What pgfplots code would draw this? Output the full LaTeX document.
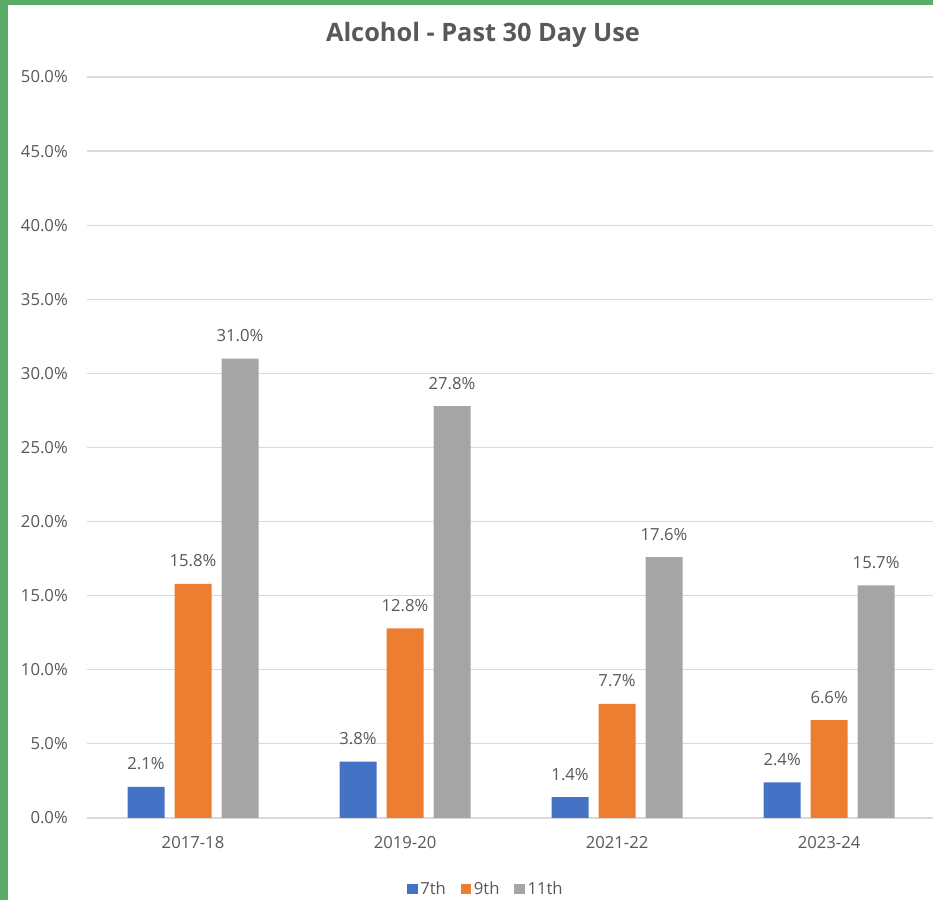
\documentclass[border=0pt]{standalone}
\usepackage{fontspec}
\setmainfont{Open Sans}
\usepackage{pgfplots}
\pgfplotsset{compat=1.18}
\definecolor{c7}{HTML}{4472C4}
\definecolor{c9}{HTML}{ED7D31}
\definecolor{c11}{HTML}{A5A5A5}
\definecolor{txt}{HTML}{595959}
\definecolor{gridc}{HTML}{D9D9D9}
\definecolor{framec}{RGB}{91,172,103}
\begin{document}
\begin{tikzpicture}
\path[use as bounding box] (0,0) rectangle (699.75pt,675pt);
\fill[white] (0,0) rectangle (699.75pt,675pt);
\begin{axis}[
  at={(65.25pt,61.5pt)}, anchor=south west,
  scale only axis, width=634.5pt, height=555.75pt,
  ybar=7.5pt, bar width=27.75pt,
  xmin=-0.5, xmax=3.49, ymin=0, ymax=50,
  xtick={0,1,2,3}, xticklabels={2017-18,2019-20,2021-22,2023-24},
  ytick={0,5,...,50},
  yticklabel={\pgfmathprintnumber[fixed,fixed zerofill,precision=1]{\tick}\%},
  /pgf/number format/assume math mode=true,
  xmajorgrids=false, ymajorgrids=true,
  major grid style={draw=gridc, line width=0.9pt},
  axis line style={draw=none},
  axis x line*=bottom, axis y line*=left,
  major tick length=0pt,
  tick label style={font=\fontsize{12.5}{14}\selectfont, text=txt},
  yticklabel style={anchor=east, inner sep=0pt, xshift=-14.25pt},
  xticklabel style={anchor=north, inner sep=0pt, yshift=-13.5pt},
  nodes near coords={\pgfmathprintnumber[fixed,fixed zerofill,precision=1]{\pgfplotspointmeta}\%},
  nodes near coords style={font=\fontsize{12.5}{14}\selectfont, text=txt, anchor=base, inner sep=0pt, yshift=12.75pt},
  legend style={at={(0.4718,-0.0958)}, anchor=center, draw=none, fill=none,
    legend columns=3, font=\fontsize{12.5}{14}\selectfont, text=txt,
    /tikz/every even column/.append style={column sep=9pt}},
  legend image code/.code={\fill[#1] (0pt,-3.75pt) rectangle (8pt,3.75pt);},
  clip=false,
]
\draw[draw=gridc, line width=0.9pt] (axis cs:-0.5,0) -- (axis cs:3.49,0);
\addplot[fill=c7, draw=none] coordinates {(0,2.1) (1,3.8) (2,1.4) (3,2.4)};
\addplot[fill=c9, draw=none] coordinates {(0,15.8) (1,12.8) (2,7.7) (3,6.6)};
\addplot[fill=c11, draw=none] coordinates {(0,31.0) (1,27.8) (2,17.6) (3,15.7)};
\legend{7th,9th,11th}
\end{axis}
\node[font=\bfseries\fontsize{19}{22}\selectfont, text=txt] at (362.25pt,649pt) {Alcohol - Past 30 Day Use};
\fill[framec] (0,0) rectangle (6pt,675pt);
\fill[framec] (0,671.25pt) rectangle (699.75pt,675pt);
\end{tikzpicture}
\end{document}
